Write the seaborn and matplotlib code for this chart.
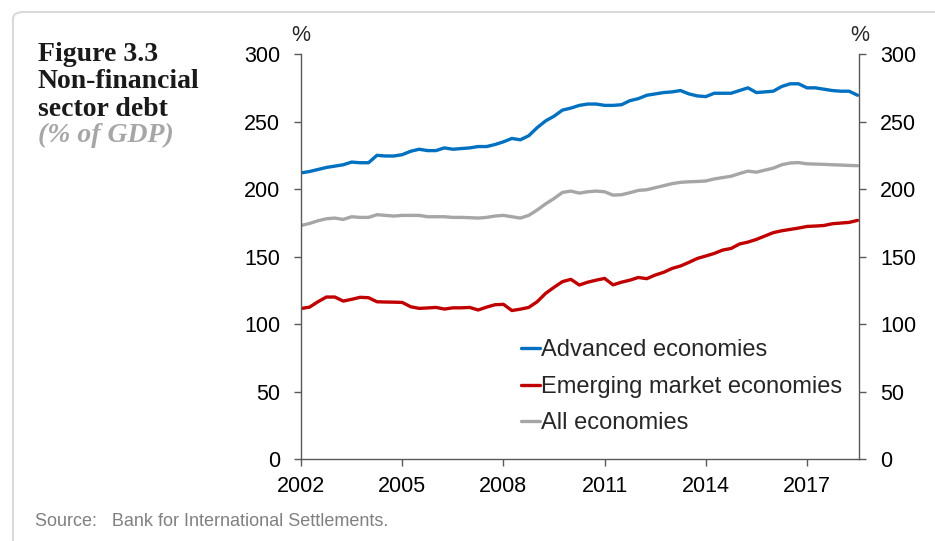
import numpy as np
import pandas as pd
import matplotlib
matplotlib.use("Agg")
import matplotlib.pyplot as plt
from matplotlib.patches import FancyBboxPatch
import seaborn as sns

# Quarterly data, 2002Q1 - 2018Q3, % of GDP
quarters = pd.period_range("2002Q1", "2018Q3", freq="Q")

advanced = [212, 213, 214.5, 216, 217, 218, 220, 219.5, 219.5, 225, 224.5, 224.5,
            225.5, 228, 229.5, 228.5, 228.5, 230.5, 229.5, 230, 230.5, 231.5, 231.5, 233,
            235, 237.5, 236.5, 239.5, 245.5, 250.5, 254, 258.5, 260, 262, 263, 263,
            262, 262, 262.5, 265.5, 267, 269.5, 270.5, 271.5, 272, 273, 270.5, 269,
            268.5, 271, 271, 271, 273, 275, 271.5, 272, 272.5, 276, 278, 278,
            275, 275, 274, 273, 272.5, 272.5, 269.5]

emerging = [111.5, 112.5, 116.5, 120, 120, 117, 118.3, 119.8, 119.5, 116.5, 116.3, 116.2,
            116, 112.8, 111.6, 111.9, 112.3, 111.1, 112, 112, 112.3, 110.4, 112.5, 114.3,
            114.6, 110, 111, 112.3, 116.5, 122.7, 127.2, 131.4, 133.1, 128.9, 131, 132.5,
            133.8, 129, 131, 132.5, 134.5, 133.6, 136.3, 138.3, 141.2, 143, 145.7, 148.6,
            150.4, 152.3, 154.8, 156, 159.3, 160.7, 162.7, 165.2, 167.7, 169.1, 170.1, 171.1,
            172.3, 172.6, 173, 174.3, 174.8, 175.3, 176.8]

all_econ = [173, 174.5, 176.5, 178, 178.5, 177.5, 179.5, 179, 179, 181, 180.5, 180,
            180.5, 180.5, 180.5, 179.5, 179.5, 179.5, 179, 179, 178.8, 178.5, 179, 180,
            180.5, 179.5, 178.5, 180.5, 184.5, 189, 193, 197.5, 198.5, 197, 198, 198.5,
            198, 195.5, 195.8, 197.3, 199, 199.5, 201, 202.5, 204, 205, 205.4, 205.6,
            206, 207.5, 208.5, 209.5, 211.5, 213.3, 212.5, 214, 215.5, 218, 219.3, 219.6,
            218.7, 218.5, 218.3, 218, 217.8, 217.5, 217.3]

series_names = ["Advanced economies", "Emerging market economies", "All economies"]
colors = ["#0070C0", "#C00000", "#A6A6A6"]
year_ticks = [2002, 2005, 2008, 2011, 2014, 2017]
y_ticks = [0, 50, 100, 150, 200, 250, 300]

t = np.array([q.year + (q.quarter - 1) / 4 for q in quarters])
df = pd.concat([
    pd.DataFrame({"t": t, "value": advanced, "series": series_names[0]}),
    pd.DataFrame({"t": t, "value": emerging, "series": series_names[1]}),
    pd.DataFrame({"t": t, "value": all_econ, "series": series_names[2]}),
])

sns.set_theme(style="white")
plt.rcParams["font.family"] = ["Liberation Sans", "DejaVu Sans"]

fig = plt.figure(figsize=(9.35, 5.41), dpi=100)
ax = fig.add_axes([0.322, 0.1516, 0.597, 0.7484])

sns.lineplot(data=df, x="t", y="value", hue="series", hue_order=series_names,
             palette=colors, linewidth=2.4, ax=ax)

ax.set_xlim(2002, 2018.55)
ax.set_ylim(0, 300)
ax.set_xticks(year_ticks)
ax.set_xticklabels([str(y) for y in year_ticks])
ax.set_yticks(y_ticks)
ax.set_xlabel("")
ax.set_ylabel("")

for side in ["left", "right", "bottom"]:
    ax.spines[side].set_visible(True)
    ax.spines[side].set_color("#595959")
    ax.spines[side].set_linewidth(1.0)
ax.spines["top"].set_visible(False)

ax.tick_params(axis="both", direction="out", length=5, width=1, color="#595959",
               labelsize=15.5, labelcolor="black")
ax.tick_params(axis="y", left=True, right=True, labelleft=True, labelright=True, pad=10)
ax.tick_params(axis="x", bottom=True, pad=7)

ax.text(0.0, 1.02, "%", transform=ax.transAxes, fontsize=15.5, ha="center", va="bottom")
ax.text(1.0, 1.02, "%", transform=ax.transAxes, fontsize=15.5, ha="center", va="bottom")

leg = ax.legend(loc="upper left", bbox_to_anchor=(0.394, 0.296), frameon=False,
                fontsize=17, handlelength=0.8, handletextpad=0.05,
                labelspacing=0.62, borderpad=0, borderaxespad=0)
for line in leg.get_lines():
    line.set_linewidth(2.4)

# title block
title_lines = ["Figure 3.3", "Non-financial", "sector debt"]
baselines = [61, 88.5, 116]
for txt, yb in zip(title_lines, baselines):
    fig.text(38 / 935, 1 - yb / 541, txt, family="Liberation Serif", fontsize=20,
             weight="bold", color="#1a1a1a", ha="left", va="baseline")
fig.text(38 / 935, 1 - 142 / 541, "(% of GDP)", family="Liberation Serif", fontsize=20,
         weight="bold", style="italic", color="#A6A6A6", ha="left", va="baseline")

fig.text(35 / 935, 1 - 522 / 541, "Source:   Bank for International Settlements.",
         fontsize=13, color="#808080", ha="left", va="center")

# light panel border
border = FancyBboxPatch((13 / 935, -0.1), 1.1, 1 - 12 / 541 + 0.1,
                        boxstyle="round,pad=0,rounding_size=0.012",
                        transform=fig.transFigure, fill=False,
                        edgecolor="#D9D9D9", linewidth=1.5, zorder=0)
fig.patches.append(border)

fig.savefig("out.png", dpi=100)
